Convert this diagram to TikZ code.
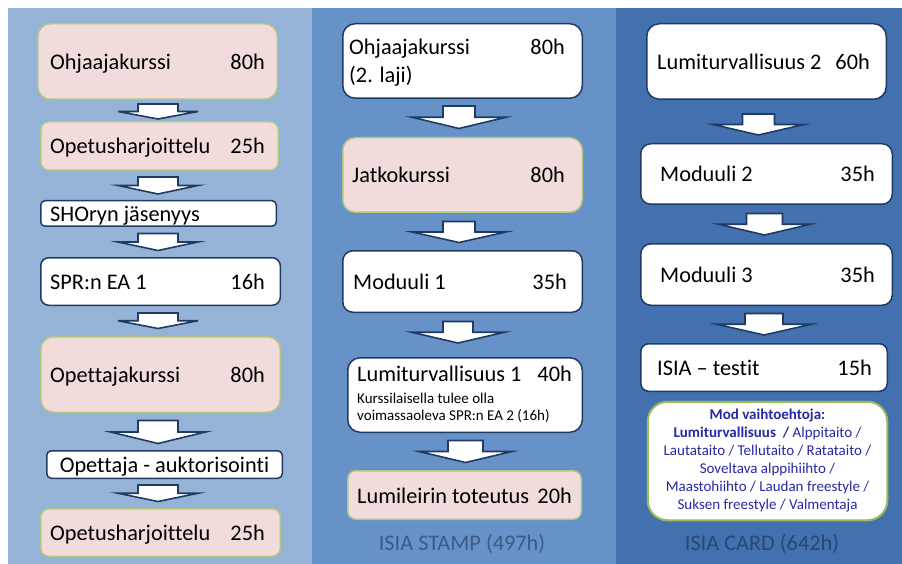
\documentclass[tikz,border=0pt]{standalone}
\usepackage{fontspec}
\setmainfont{Carlito}[Ligatures=NoCommon]
\usetikzlibrary{calc}
\definecolor{colA}{HTML}{95B3D7}
\definecolor{colB}{HTML}{6792C8}
\definecolor{colC}{HTML}{4371AF}
\definecolor{pinkfill}{HTML}{F2DCDB}
\definecolor{pinkline}{HTML}{AFC882}
\definecolor{navy}{HTML}{1F3B63}
\definecolor{modgreen}{HTML}{9BBB59}
\definecolor{modtext}{HTML}{2828A4}
\definecolor{stampcol}{HTML}{3B5B87}
\definecolor{cardcol}{HTML}{274873}
\tikzset{
  boxbase/.style={rectangle, inner sep=0pt, line width=1.5pt},
  pinkbox/.style={boxbase, fill=pinkfill, draw=pinkline},
  whitebox/.style={boxbase, fill=white, draw=navy},
  modbox/.style={boxbase, fill=white, draw=modgreen, line width=2pt},
  bigtext/.style={font=\fontsize{22.3}{27}\selectfont, inner sep=0pt, text=black},
  smalltext/.style={font=\fontsize{15}{17.4}\selectfont, inner sep=0pt, text=black},
  modlines/.style={font=\fontsize{15}{18}\selectfont, inner sep=0pt, text=modtext, align=center},
  coltitle/.style={font=\fontsize{22.3}{27}\selectfont, inner sep=0pt},
  blockarrow/.style={fill=white, draw=navy, line width=1.6pt, line join=miter}
}
\newcommand\mkbox[6]{%
  \pgfmathsetmacro\bw{#5-#3-1.5}%
  \pgfmathsetmacro\bh{#6-#4-1.5}%
  \pgfmathsetmacro\br{min(\bw,\bh)/6}%
  \node[#2, minimum width=\bw pt, minimum height=\bh pt, rounded corners=\br pt] (#1) at ({(#3+#5)/2},{(#4+#6)/2}) {};}
% left text: name, box, offset, baseline offset, text
\newcommand\lefttext[5]{\node[bigtext, anchor=base west] (#1) at ($(#2.west)+(#3,#4)$) {#5};}
\newcommand\righttext[5]{\node[bigtext, anchor=base east] (#1) at ($(#2.east)+(-#3,#4)$) {#5};}
\newcommand\barrow[7]{%
  \coordinate (t) at ($(#1.south)+(#7,#3)$);
  \coordinate (p) at ($(#1.south |- #2.north)+(#7,-#4)$);
  \coordinate (m) at ($(t)!0.5!(p)$);
  \draw[blockarrow] ($(t)+(-#5,0)$) -- ($(t)+(#5,0)$) -- ($(m)+(#5,0)$) -- ($(m)+(#6,0)$) -- (p) -- ($(m)+(-#6,0)$) -- ($(m)+(-#5,0)$) -- cycle;}
\begin{document}
\begin{tikzpicture}[x=1pt, y=-1pt]
\useasboundingbox (0,0) rectangle (902,564);
\fill[white] (0,0) rectangle (902,564);
\fill[colA] (8,8) rectangle (312,564);
\fill[colB] (312,8) rectangle (616,564);
\fill[colC] (616,8) rectangle (902,564);

% column 1
\mkbox{b1}{pinkbox}{37}{23}{278}{100}
\lefttext{b1l}{b1}{13}{8}{Ohjaajakurssi}
\righttext{b1r}{b1}{13}{8}{80h}
\mkbox{b2}{pinkbox}{40}{121}{279}{171}
\lefttext{b2l}{b2}{10}{8}{Opetusharjoittelu}
\righttext{b2r}{b2}{14}{8}{25h}
\mkbox{b3}{whitebox}{40}{200}{277}{227}
\lefttext{b3l}{b3}{10}{8.5}{SHOryn jäsenyys}
\mkbox{b4}{whitebox}{40}{257}{281}{306}
\lefttext{b4l}{b4}{10}{8}{SPR:n EA 1}
\righttext{b4r}{b4}{16}{8}{16h}
\mkbox{b5}{pinkbox}{40}{336}{281}{413}
\lefttext{b5l}{b5}{10}{8}{Opettajakurssi}
\righttext{b5r}{b5}{16}{8}{80h}
\mkbox{b6}{whitebox}{46}{450}{283}{479}
\node[bigtext, anchor=base] (b6t) at ($(b6.center)+(0,7.5)$) {Opettaja - auktorisointi};
\mkbox{b7}{pinkbox}{40}{508}{281}{557}
\lefttext{b7l}{b7}{10}{8}{Opetusharjoittelu}
\righttext{b7r}{b7}{16}{8}{25h}

% column 2
\mkbox{c1}{whitebox}{342}{23}{583}{99}
\lefttext{c1l}{c1}{7}{-6}{Ohjaajakurssi}
\lefttext{c1m}{c1}{7}{21.5}{(2. laji)}
\righttext{c1r}{c1}{18}{-6}{80h}
\mkbox{c2}{pinkbox}{342}{137}{583}{213}
\lefttext{c2l}{c2}{10}{8}{Jatkokurssi}
\righttext{c2r}{c2}{18}{8}{80h}
\mkbox{c3}{whitebox}{342}{250}{583}{313}
\lefttext{c3l}{c3}{11}{8}{Moduuli 1}
\righttext{c3r}{c3}{16}{8}{35h}
\mkbox{c4}{whitebox}{347}{357}{583}{433}
\lefttext{c4l}{c4}{10}{-13.3}{Lumiturvallisuus 1}
\righttext{c4r}{c4}{11}{-13.3}{40h}
\node[smalltext, anchor=base west] (c4a) at ($(c4.west)+(10,8.3)$) {Kurssilaisella tulee olla};
\node[smalltext, anchor=base west] (c4b) at ($(c4.west)+(10,25.7)$) {voimassaoleva SPR:n EA 2 (16h)};
\mkbox{c5}{pinkbox}{347}{470}{582}{520}
\lefttext{c5l}{c5}{10}{8}{Lumileirin toteutus}
\righttext{c5r}{c5}{10}{8}{20h}
\node[coltitle, text=stampcol, anchor=base] (stamp) at (462,550) {ISIA STAMP (497h)};

% column 3
\mkbox{d1}{whitebox}{646}{23}{887}{100}
\lefttext{d1l}{d1}{11}{8}{Lumiturvallisuus 2}
\righttext{d1r}{d1}{17}{8}{60h}
\mkbox{d2}{whitebox}{640}{143}{893}{205}
\lefttext{d2l}{d2}{20}{8}{Moduuli 2}
\righttext{d2r}{d2}{18}{8}{35h}
\mkbox{d3}{whitebox}{640}{243}{893}{306}
\lefttext{d3l}{d3}{20}{8}{Moduuli 3}
\righttext{d3r}{d3}{18}{8}{35h}
\mkbox{d4}{whitebox}{640}{343}{888}{392}
\lefttext{d4l}{d4}{17}{8}{ISIA – testit}
\righttext{d4r}{d4}{16}{8}{15h}
\mkbox{d5}{modbox}{647}{401}{888}{521}
\node[modlines] (d5t) at ($(d5.center)+(0,0)$) {\textbf{Mod vaihtoehtoja:}\\
\textbf{Lumiturvallisuus\ \ /} Alppitaito /\\
Lautataito / Tellutaito / Ratataito /\\
Soveltava alppihiihto /\\
Maastohiihto / Laudan freestyle /\\
Suksen freestyle / Valmentaja};
\node[coltitle, text=cardcol, anchor=base] (card) at (762,550) {ISIA CARD (642h)};

% block arrows
\barrow{b1}{b2}{4}{2}{20}{40}{0.5}
\barrow{b2}{b3}{6}{6}{20}{40}{-1.5}
\barrow{b3}{b4}{6.5}{6.5}{20}{40}{-0.5}
\barrow{b4}{b5}{7}{7.5}{20}{40}{-2.5}
\barrow{b5}{b6}{7.5}{6.5}{20}{47.5}{-2.5}
\barrow{b6}{b7}{6}{6.5}{20}{40}{-6.5}
\barrow{c1}{c2}{7}{8.5}{16}{47}{-3.5}
\barrow{c2}{c3}{8.5}{7.5}{16}{47}{-3.5}
\barrow{c3}{c4}{8.5}{14}{15}{46.5}{-4.5}
\barrow{c4}{c5}{7.5}{7.5}{17.5}{46.5}{0.5}
\barrow{d1}{d2}{14}{8}{16}{45.5}{-8}
\barrow{d2}{d3}{8.5}{8}{18}{46}{-2}
\barrow{d3}{d4}{7.5}{8}{19}{47.5}{-2.5}
\end{tikzpicture}
\end{document}
